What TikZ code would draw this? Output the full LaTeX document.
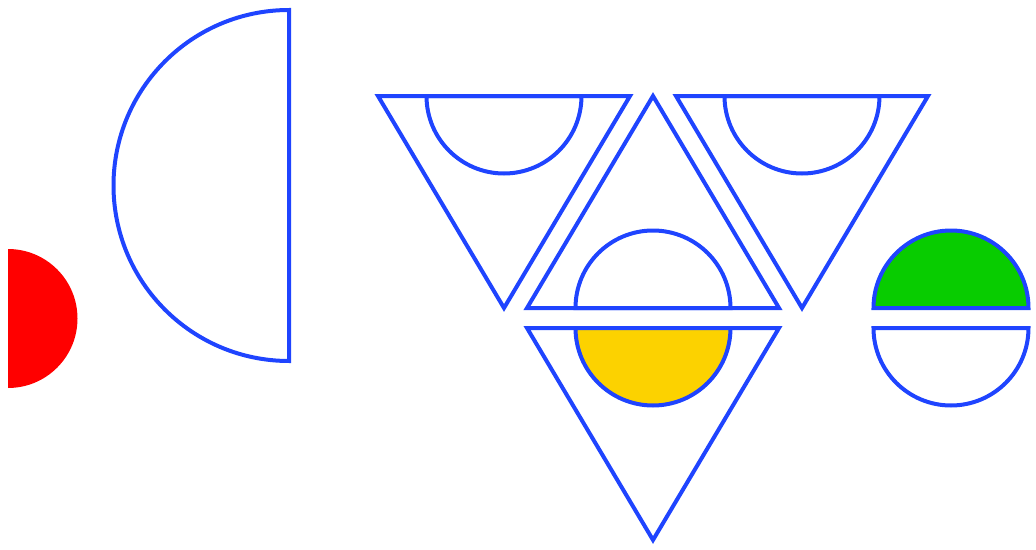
\documentclass[tikz,border=0pt]{standalone}
\usepackage{tikz}
\definecolor{shapeblue}{RGB}{31,68,255}
\definecolor{sunyellow}{RGB}{252,210,0}
\definecolor{leafgreen}{RGB}{8,204,0}
\tikzset{
  outline/.style ={draw=shapeblue, line width=0.08cm, line join=miter},
  solid red/.style={fill=red, draw=none},
}

\begin{document}
\begin{tikzpicture}[x=0.02cm, y=0.02cm]
  \useasboundingbox (0,0) rectangle (1036,549);

  % left half discs
  \path[solid red] (8,161) arc[start angle=-90, end angle=90, radius=69.5] -- cycle;
  \draw[outline] (289,539) arc[start angle=90, end angle=270, radius=175.5] -- cycle;

  % downward triangles with a bowl under the top edge
  \foreach \cx in {504, 802} {
    \draw[outline] (\cx-126,453) -- (\cx+126,453) -- (\cx,241) -- cycle;
    \draw[outline] (\cx-77.5,453) arc[start angle=180, end angle=360, radius=77.5] -- cycle;
  }

  % upward triangle in the middle
  \draw[outline] (527,241) -- (779,241) -- (653,453) -- cycle;
  \draw[outline] (730.5,241) arc[start angle=0, end angle=180, radius=77.5] -- cycle;

  % lower triangle, yellow bowl
  \draw[outline] (527,221) -- (779,221) -- (653,9) -- cycle;
  \draw[outline, fill=sunyellow] (575.5,221) arc[start angle=180, end angle=360, radius=77.5] -- cycle;

  % split disc on the right
  \draw[outline, fill=leafgreen] (1028.5,241) arc[start angle=0, end angle=180, radius=77.5] -- cycle;
  \draw[outline] (873.5,221) arc[start angle=180, end angle=360, radius=77.5] -- cycle;
\end{tikzpicture}
\end{document}
